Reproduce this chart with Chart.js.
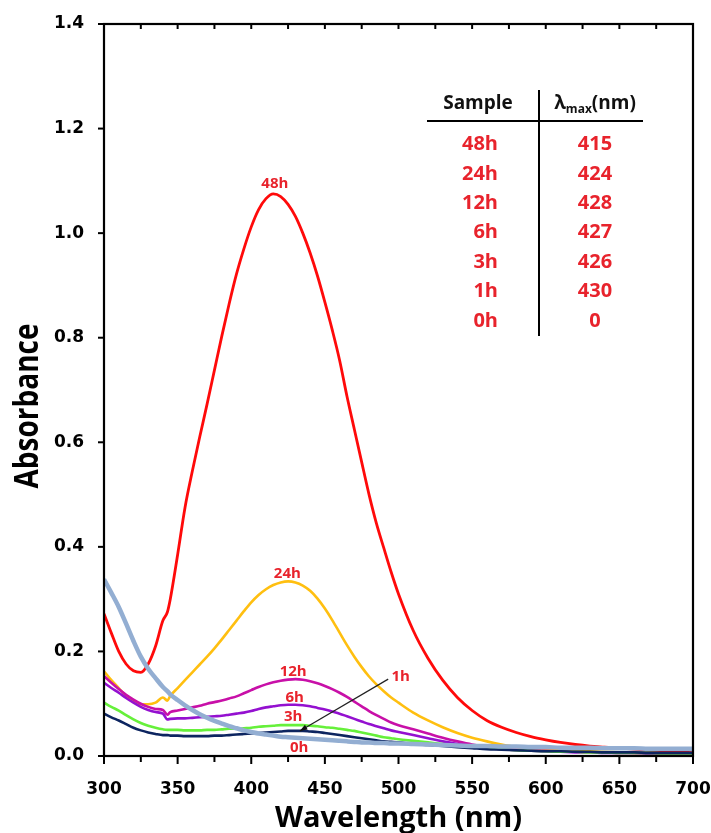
<!DOCTYPE html>
<html>
<head>
<meta charset="utf-8">
<script src="https://cdn.jsdelivr.net/npm/chart.js@4.4.1/dist/chart.umd.min.js"></script>
<style>
html,body{margin:0;padding:0;background:#fff;}
#wrap{width:711px;height:833px;position:relative;}
</style>
</head>
<body>
<div id="wrap"><canvas id="c" width="711" height="833"></canvas></div>
<script>
// ---- Data ----
const wavelengths = [300,305,310,315,320,325,330,335,340,343,345,350,355,360,365,370,375,380,385,390,395,400,405,410,415,420,425,430,435,440,445,450,455,460,465,470,475,480,485,490,495,500,510,520,530,540,550,560,570,580,590,600,610,620,630,640,650,660,670,680,690,700];

const abs48h = [0.272,0.235,0.2,0.176,0.163,0.16,0.176,0.21,0.259,0.275,0.3,0.385,0.475,0.545,0.61,0.673,0.738,0.803,0.865,0.922,0.97,1.012,1.045,1.066,1.075,1.07,1.055,1.032,1.0,0.962,0.918,0.868,0.815,0.757,0.688,0.625,0.562,0.5,0.445,0.398,0.352,0.31,0.24,0.187,0.145,0.112,0.087,0.068,0.055,0.045,0.037,0.031,0.026,0.022,0.019,0.017,0.015,0.013,0.011,0.009,0.008,0.006];
const abs24h = [0.162,0.145,0.13,0.115,0.105,0.099,0.099,0.102,0.112,0.106,0.115,0.13,0.145,0.16,0.175,0.19,0.206,0.223,0.241,0.259,0.277,0.294,0.308,0.319,0.327,0.332,0.334,0.332,0.326,0.316,0.301,0.282,0.26,0.236,0.212,0.19,0.17,0.152,0.137,0.124,0.112,0.102,0.083,0.068,0.055,0.044,0.035,0.028,0.022,0.017,0.014,0.012,0.011,0.010,0.009,0.008,0.007,0.006,0.006,0.005,0.005,0.005];
const abs12h = [0.153,0.14,0.128,0.117,0.108,0.1,0.094,0.09,0.088,0.079,0.084,0.087,0.09,0.093,0.096,0.1,0.103,0.106,0.11,0.114,0.12,0.126,0.132,0.137,0.141,0.144,0.146,0.147,0.146,0.143,0.139,0.134,0.128,0.121,0.113,0.104,0.095,0.086,0.078,0.071,0.064,0.059,0.051,0.043,0.035,0.028,0.022,0.018,0.015,0.012,0.011,0.010,0.009,0.008,0.007,0.007,0.006,0.006,0.006,0.005,0.005,0.005];
const abs6h = [0.14,0.13,0.121,0.111,0.102,0.094,0.088,0.084,0.081,0.07,0.071,0.072,0.072,0.073,0.074,0.075,0.076,0.077,0.079,0.081,0.083,0.086,0.09,0.093,0.095,0.097,0.098,0.098,0.097,0.095,0.092,0.089,0.085,0.081,0.076,0.071,0.066,0.061,0.057,0.053,0.049,0.046,0.04,0.034,0.028,0.023,0.019,0.015,0.013,0.011,0.010,0.009,0.008,0.007,0.007,0.006,0.006,0.006,0.005,0.005,0.005,0.005];
const abs3h = [0.102,0.094,0.087,0.078,0.07,0.063,0.058,0.054,0.051,0.05,0.05,0.05,0.049,0.049,0.049,0.05,0.05,0.051,0.052,0.052,0.053,0.054,0.056,0.057,0.058,0.059,0.059,0.059,0.059,0.058,0.057,0.055,0.054,0.052,0.05,0.048,0.045,0.042,0.039,0.036,0.034,0.032,0.029,0.026,0.023,0.02,0.017,0.015,0.013,0.011,0.010,0.009,0.008,0.008,0.007,0.007,0.006,0.006,0.006,0.005,0.005,0.005];
const abs1h = [0.081,0.074,0.068,0.061,0.054,0.049,0.045,0.042,0.04,0.04,0.039,0.039,0.038,0.038,0.038,0.038,0.039,0.039,0.04,0.041,0.042,0.043,0.044,0.045,0.046,0.047,0.048,0.048,0.048,0.047,0.046,0.044,0.042,0.04,0.038,0.036,0.034,0.032,0.03,0.028,0.027,0.026,0.023,0.021,0.019,0.017,0.015,0.013,0.012,0.011,0.010,0.009,0.009,0.008,0.008,0.007,0.007,0.007,0.006,0.006,0.006,0.006];
const abs0h = [0.338,0.312,0.285,0.253,0.22,0.19,0.167,0.149,0.132,0.124,0.118,0.107,0.097,0.088,0.08,0.073,0.067,0.062,0.057,0.053,0.049,0.046,0.043,0.041,0.039,0.037,0.036,0.035,0.034,0.033,0.032,0.031,0.03,0.029,0.028,0.027,0.026,0.026,0.025,0.025,0.024,0.024,0.023,0.022,0.021,0.020,0.019,0.019,0.018,0.018,0.017,0.017,0.016,0.016,0.016,0.015,0.015,0.015,0.014,0.014,0.014,0.014];

const seriesNames = ['0h','1h','3h','6h','12h','24h','48h'];
const seriesColors = ['#93aed2','#0d2560','#66f03a','#9410d0','#c810a8','#ffbf10','#ff0a0a'];

// Table inside the plot
const tableSamples = ['48h','24h','12h','6h','3h','1h','0h'];
const tableLambda = ['415','424','428','427','426','430','0'];

// Curve labels (data coordinates: wavelength, absorbance)
const curveLabels = [
  {text:'48h', x:416, y:1.095},
  {text:'24h', x:424.5, y:0.348},
  {text:'12h', x:428.5, y:0.161},
  {text:'6h', x:429.5, y:0.112},
  {text:'3h', x:428.5, y:0.075},
  {text:'0h', x:432.5, y:0.016},
  {text:'1h', x:501.5, y:0.151}
];
const arrow1h = {from:[493, 0.147], to:[433, 0.048]};

const xTicks = [300,350,400,450,500,550,600,650,700];
const yTicks = [0,0.2,0.4,0.6,0.8,1.0,1.2,1.4];

const LABEL_RED = '#e8232c';

const allSeries = [abs0h, abs1h, abs3h, abs6h, abs12h, abs24h, abs48h];
const datasets = allSeries.map((vals, i) => ({
  label: seriesNames[i],
  data: wavelengths.map((w, k) => ({x: w, y: vals[k]})),
  borderColor: seriesColors[i],
  borderWidth: i === 0 ? 4.5 : (i === 6 ? 2.8 : 2.6),
  pointRadius: 0,
  fill: false,
  cubicInterpolationMode: 'monotone',
  order: i
}));

const overlay = {
  id: 'overlay',
  afterDraw(chart) {
    const {ctx, chartArea: a, scales: {x, y}} = chart;
    ctx.save();
    // frame
    ctx.strokeStyle = '#000';
    ctx.lineWidth = 2.2;
    ctx.strokeRect(a.left, a.top, a.right - a.left, a.bottom - a.top);
    // x ticks (major + minor), top inward ticks
    ctx.lineWidth = 2;
    for (let v = xTicks[0]; v <= xTicks[xTicks.length - 1]; v += 25) {
      const px = x.getPixelForValue(v);
      const major = xTicks.includes(v);
      ctx.beginPath();
      ctx.moveTo(px, a.bottom);
      ctx.lineTo(px, a.bottom + (major ? 8 : 6));
      ctx.moveTo(px, a.top);
      ctx.lineTo(px, a.top + 5);
      ctx.stroke();
    }
    yTicks.forEach(v => {
      const py = y.getPixelForValue(v);
      ctx.beginPath();
      ctx.moveTo(a.left, py);
      ctx.lineTo(a.left - 6, py);
      ctx.stroke();
    });

    // curve labels
    ctx.fillStyle = LABEL_RED;
    ctx.font = 'bold 15px "Open Sans"';
    ctx.textAlign = 'center';
    ctx.textBaseline = 'middle';
    curveLabels.forEach(l => {
      ctx.fillText(l.text, x.getPixelForValue(l.x), y.getPixelForValue(l.y));
    });
    // arrow for 1h
    const x1 = x.getPixelForValue(arrow1h.from[0]), y1 = y.getPixelForValue(arrow1h.from[1]);
    const x2 = x.getPixelForValue(arrow1h.to[0]), y2 = y.getPixelForValue(arrow1h.to[1]);
    ctx.strokeStyle = '#222';
    ctx.lineWidth = 1.2;
    ctx.beginPath(); ctx.moveTo(x1, y1); ctx.lineTo(x2, y2); ctx.stroke();
    const ang = Math.atan2(y2 - y1, x2 - x1);
    ctx.fillStyle = '#111';
    ctx.beginPath();
    ctx.moveTo(x2, y2);
    ctx.lineTo(x2 - 8 * Math.cos(ang - 0.35), y2 - 8 * Math.sin(ang - 0.35));
    ctx.lineTo(x2 - 8 * Math.cos(ang + 0.35), y2 - 8 * Math.sin(ang + 0.35));
    ctx.closePath(); ctx.fill();

    // table
    const colL = 498, colR = 595, lineY = 121, vX = 539;
    ctx.strokeStyle = '#000';
    ctx.lineWidth = 2;
    ctx.beginPath();
    ctx.moveTo(427, lineY); ctx.lineTo(643, lineY);
    ctx.moveTo(vX, 90); ctx.lineTo(vX, 336);
    ctx.stroke();
    ctx.fillStyle = '#111';
    ctx.font = 'bold 19px "Open Sans"';
    ctx.textAlign = 'center';
    ctx.textBaseline = 'middle';
    ctx.fillText('Sample', 478, 104);
    // λmax(nm)
    ctx.textAlign = 'left';
    const lam = 'λ', sub = 'max', tail = '(nm)';
    ctx.font = 'bold 19px "Open Sans"';
    const wL = ctx.measureText(lam).width, wT = ctx.measureText(tail).width;
    ctx.font = 'bold 12px "Open Sans"';
    const wS = ctx.measureText(sub).width;
    let sx = colR - (wL + wS + wT) / 2;
    ctx.font = 'bold 19px "Open Sans"';
    ctx.fillText(lam, sx, 104);
    ctx.font = 'bold 12px "Open Sans"';
    ctx.fillText(sub, sx + wL, 110);
    ctx.font = 'bold 19px "Open Sans"';
    ctx.fillText(tail, sx + wL + wS, 104);

    ctx.fillStyle = LABEL_RED;
    ctx.font = 'bold 20px "Open Sans"';
    tableSamples.forEach((s, i) => {
      const ry = 144.5 + i * 29.4;
      ctx.textAlign = 'right';
      ctx.fillText(s, colL, ry);
      ctx.textAlign = 'center';
      ctx.fillText(tableLambda[i], colR, ry);
    });

    // axis titles
    ctx.fillStyle = '#000';
    ctx.font = 'bold 29px "Open Sans"';
    ctx.textAlign = 'center';
    ctx.textBaseline = 'alphabetic';
    ctx.fillText('Wavelength (nm)', (a.left + a.right) / 2, 827);
    ctx.save();
    ctx.translate(28, 406);
    ctx.rotate(-Math.PI / 2);
    ctx.scale(1, 1.2);
    ctx.font = 'bold 28px "Open Sans"';
    ctx.textBaseline = 'middle';
    ctx.fillText('Absorbance', 0, 0);
    ctx.restore();

    ctx.restore();
  }
};

new Chart(document.getElementById('c'), {
  type: 'line',
  data: {datasets},
  options: {
    responsive: false,
    animation: false,
    devicePixelRatio: 1,
    layout: {padding: {top: 24, right: 18, left: 0, bottom: 0}},
    plugins: {legend: {display: false}, tooltip: {enabled: false}},
    scales: {
      x: {
        type: 'linear', min: 300, max: 700,
        afterBuildTicks: s => { s.ticks = xTicks.map(v => ({value: v})); },
        afterFit: s => { s.height = 77; s.paddingLeft = 0; s.paddingRight = 0; },
        ticks: {color: '#000', font: {family: 'DejaVu Sans', weight: 'bold', size: 17}, padding: 23, maxRotation: 0, autoSkip: false},
        grid: {display: false, drawTicks: false},
        border: {display: false}
      },
      y: {
        min: 0, max: 1.4,
        afterBuildTicks: s => { s.ticks = yTicks.map(v => ({value: v})); },
        afterFit: s => { s.width = 104; s.paddingTop = 0; s.paddingBottom = 0; },
        ticks: {color: '#000', font: {family: 'DejaVu Sans', weight: 'bold', size: 17}, padding: 20, callback: v => Number(v).toFixed(1)},
        grid: {display: false, drawTicks: false},
        border: {display: false}
      }
    }
  },
  plugins: [overlay]
});
</script>
</body>
</html>
